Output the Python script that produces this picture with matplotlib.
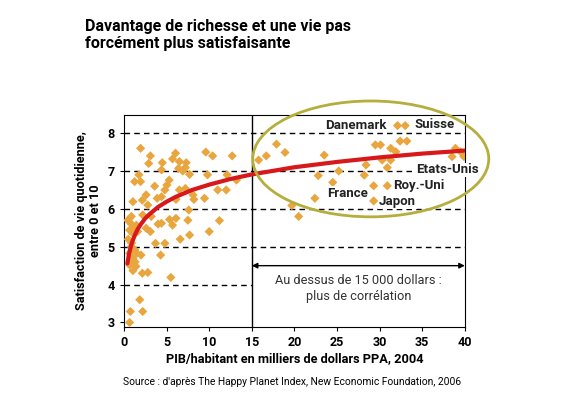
import numpy as np
from matplotlib import pyplot as plt
from matplotlib.patches import Ellipse

# nuage de points : PIB/habitant (milliers $ PPA) et satisfaction
pib = [1.95, 3.1, 2.9, 4.5, 4.4, 6.05, 5.7, 6.5, 7.3, 6.4, 6.9, 7.2, 7.7, 9.6, 10.4, 12.7,
       12.1, 9.8, 1.75, 1.25, 1.95, 3.6, 5.04, 5.3, 4.8, 4.4, 3.9, 2.15, 1.05, 2.6, 2.8,
       6.1, 6.5, 7.2, 8.1, 8.2, 9.45, 11.0, 12.0, 13.2, 7.6, 6.1, 5.35, 4.4, 4.0, 3.2,
       2.2, 0.86, 0.86, 1.45, 0.66, 1.05, 1.6, 2.6, 3.1, 5.7, 7.5, 7.7, 6.6, 10.0, 11.2,
       3.7, 4.8, 4.3, 0.86, 1.25, 0.66, 1.5, 2.0, 1.05, 0.66, 1.4, 1.05, 2.15, 2.8, 5.5,
       1.85, 2.2, 0.75, 0.66, 0.5, 0.9, 1.2, 0.8, 1.3, 0.45,
       15.8, 16.7, 17.9, 18.9, 19.7, 20.5, 22.4, 22.8, 23.5, 24.5, 25.2, 28.2, 28.4,
       29.3, 29.3, 30.9, 30.9, 29.5, 30.1, 30.3, 31.3, 31.3, 31.9, 32.4, 33.2, 32.1,
       33.0, 38.5, 38.9, 39.9, 39.5]
satisf = [7.6, 7.4, 7.2, 7.22, 7.03, 7.47, 7.32, 7.25, 7.22, 7.07, 7.0, 7.09, 6.91, 7.5, 7.4, 7.4,
          6.9, 6.9, 6.9, 6.72, 6.72, 6.6, 6.63, 6.76, 6.5, 6.32, 6.28, 6.23, 6.19, 6.37, 6.1,
          6.25, 6.5, 6.54, 6.37, 6.25, 6.28, 6.5, 6.5, 6.76, 5.97, 5.75, 5.72, 5.62, 5.6, 5.8,
          5.84, 5.8, 5.6, 5.57, 5.44, 5.35, 5.4, 5.49, 5.4, 5.57, 5.7, 5.31, 5.2, 5.4, 5.69,
          5.09, 5.09, 4.78, 5.0, 4.92, 4.83, 4.83, 4.78, 4.7, 4.52, 4.48, 4.37, 4.3, 4.32, 4.19,
          3.6, 3.29, 3.29, 3.0, 5.2, 5.1, 5.5, 4.6, 4.6, 5.7,
          7.29, 7.4, 7.71, 7.49, 6.09, 5.8, 6.28, 6.88, 7.42, 6.7, 7.0, 6.89, 7.16,
          6.61, 6.21, 6.61, 7.09, 7.69, 7.69, 7.29, 7.6, 7.29, 7.51, 7.79, 7.79, 8.2,
          8.2, 7.38, 7.6, 7.38, 7.51]

# courbe de tendance
courbe_x = [0.4, 0.6, 0.8, 1, 1.3, 1.6, 2, 2.5, 3, 4, 5, 6, 8, 10, 12.5, 15, 20, 25, 30, 35, 40]
courbe_y = [4.56, 4.82, 5.0, 5.15, 5.32, 5.46, 5.6, 5.75, 5.86, 6.05, 6.19, 6.31, 6.5, 6.64,
            6.79, 6.91, 7.1, 7.24, 7.36, 7.46, 7.54]

pays = ['Danemark', 'Suisse', 'Etats-Unis', 'France', 'Roy.-Uni', 'Japon']
pays_x = [27.2, 36.5, 37.9, 26.2, 34.6, 32.1]
pays_y = [8.21, 8.23, 7.03, 6.41, 6.61, 6.19]

narrow = ['Roboto', 'DejaVu Sans']

fig = plt.figure(figsize=(5.7, 4.12), dpi=100)
ax = fig.add_axes([0.2175, 0.2063, 0.598, 0.5146])

for yy, x0, x1 in [(8, 0, 40), (7, 0, 40), (6, 0, 40), (5, 0, 40), (4, 0, 15)]:
    ax.plot([x0, x1], [yy, yy], color='black', lw=1, linestyle=(0, (4, 3)), zorder=1)
ax.axvline(15, color='black', lw=1, zorder=1)

ax.scatter(pib, satisf, marker='D', s=22, color='#e9a53e', edgecolors='none', zorder=3)
ax.plot(courbe_x, courbe_y, color='#d7191c', lw=3, solid_capstyle='round', zorder=4)

for nom, px, py in zip(pays, pays_x, pays_y):
    ax.text(px, py, nom, ha='center', va='center', fontsize=9.5, fontweight='bold',
            family=narrow, color='#222222', zorder=5,
            bbox=dict(facecolor='white', edgecolor='none', pad=0.5))

ell = Ellipse((28.96, 7.32), 27.7, 3.06, fill=False, edgecolor='#b5ae3c', lw=2,
              clip_on=False, zorder=6)
ax.add_patch(ell)

ax.annotate('', xy=(15, 4.5), xytext=(40, 4.5),
            arrowprops=dict(arrowstyle='<|-|>', color='black', lw=1,
                            mutation_scale=8, shrinkA=0, shrinkB=0))
ax.text(27.5, 3.89, 'Au dessus de 15 000 dollars :\nplus de corrélation', ha='center',
        va='center', fontsize=9.2, family=narrow, color='#333333', linespacing=1.3)

ax.set_xlim(0, 40)
ax.set_ylim(2.88, 8.48)
ax.set_xticks(range(0, 41, 5))
ax.set_yticks(range(3, 9))
ax.tick_params(labelsize=9, length=3)
for lab in ax.get_xticklabels() + ax.get_yticklabels():
    lab.set_fontweight('bold')
    lab.set_family(narrow)

ax.set_xlabel('PIB/habitant en milliers de dollars PPA, 2004', fontsize=9.2,
              fontweight='bold', family=narrow, labelpad=2)
ax.set_ylabel('Satisfaction de vie quotidienne,\nentre 0 et 10', fontsize=9.2,
              fontweight='bold', family=narrow, labelpad=4, linespacing=1.1)

fig.text(0.149, 0.955, 'Davantage de richesse et une vie pas\nforcément plus satisfaisante',
         ha='left', va='top', fontsize=11.5, fontweight='bold', family=narrow,
         linespacing=1.2)
fig.text(0.513, 0.073, "Source : d'après The Happy Planet Index, New Economic Foundation, 2006",
         ha='center', va='center', fontsize=7.4, family=narrow)

plt.savefig('out.png', dpi=100)
